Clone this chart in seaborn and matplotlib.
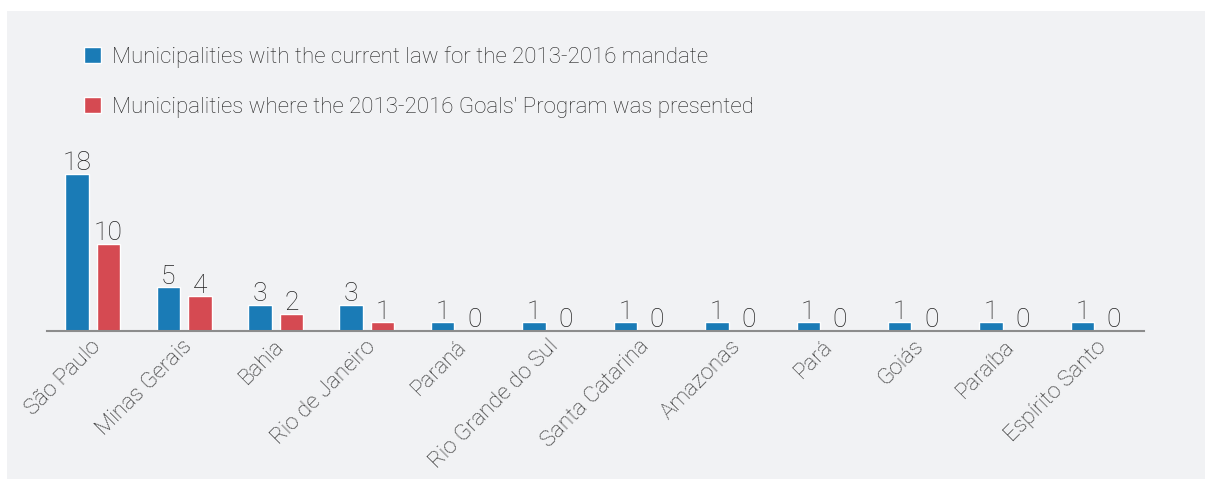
import pandas as pd
import seaborn as sns
import matplotlib.pyplot as plt
import matplotlib.transforms as mtransforms
from matplotlib.patches import Rectangle

states = [
    "São Paulo", "Minas Gerais", "Bahia", "Rio de Janeiro", "Paraná",
    "Rio Grande do Sul", "Santa Catarina", "Amazonas", "Pará", "Goiás",
    "Paraíba", "Espírito Santo",
]
current_law = [18, 5, 3, 3, 1, 1, 1, 1, 1, 1, 1, 1]
goals_program = [10, 4, 2, 1, 0, 0, 0, 0, 0, 0, 0, 0]

label_law = "Municipalities with the current law for the 2013-2016 mandate"
label_goals = "Municipalities where the 2013-2016 Goals' Program was presented"

BLUE = "#1a7bb6"
RED = "#d54a52"
PANEL = "#f1f2f4"
TEXT = "#222222"

data = pd.DataFrame(
    {
        "state": states * 2,
        "count": current_law + goals_program,
        "series": [label_law] * len(states) + [label_goals] * len(states),
    }
)

sns.set_theme(style="white")
plt.rcParams["font.family"] = ["Roboto", "DejaVu Sans"]
plt.rcParams["font.weight"] = "light"

fig = plt.figure(figsize=(12.05, 4.79), dpi=100)
fig.patch.set_facecolor("white")
fig.patches.append(
    Rectangle((7 / 1205, 0), 1, 1 - 11 / 479, transform=fig.transFigure,
              facecolor=PANEL, edgecolor="none", zorder=-10)
)

ax = fig.add_axes([47 / 1205, 148 / 479, 1097 / 1205, 174.4 / 479])
ax.set_facecolor("none")

sns.barplot(
    data=data, x="state", y="count", hue="series",
    palette=[BLUE, RED], saturation=1, width=0.69, gap=0.255, ax=ax,
)

for container in ax.containers:
    ax.bar_label(container, fontsize=19, color=TEXT, padding=-1)

ax.set_xlim(-0.5, 11.5)
ax.set_ylim(0, 20)
ax.set_xlabel("")
ax.set_ylabel("")
ax.set_yticks([])
for side in ["left", "right", "top"]:
    ax.spines[side].set_visible(False)
ax.spines["bottom"].set_color("#8c8c8c")
ax.spines["bottom"].set_linewidth(1.5)

ax.tick_params(axis="x", length=0, pad=9)
shift = mtransforms.ScaledTranslation(5 / 100, 0, fig.dpi_scale_trans)
for lbl in ax.get_xticklabels():
    lbl.set_rotation(45)
    lbl.set_ha("right")
    lbl.set_va("center")
    lbl.set_rotation_mode("anchor")
    lbl.set_fontsize(16)
    lbl.set_color(TEXT)
    lbl.set_transform(lbl.get_transform() + shift)

sns.move_legend(
    ax, loc="upper left", bbox_to_anchor=(64 / 1205, 1 - 26 / 479),
    bbox_transform=fig.transFigure, frameon=False, title=None,
    fontsize=16, labelspacing=1.3, handlelength=0.75, handleheight=0.75,
    handletextpad=0.5, labelcolor=TEXT,
)

fig.savefig("out.png", dpi=100, facecolor=fig.get_facecolor())
